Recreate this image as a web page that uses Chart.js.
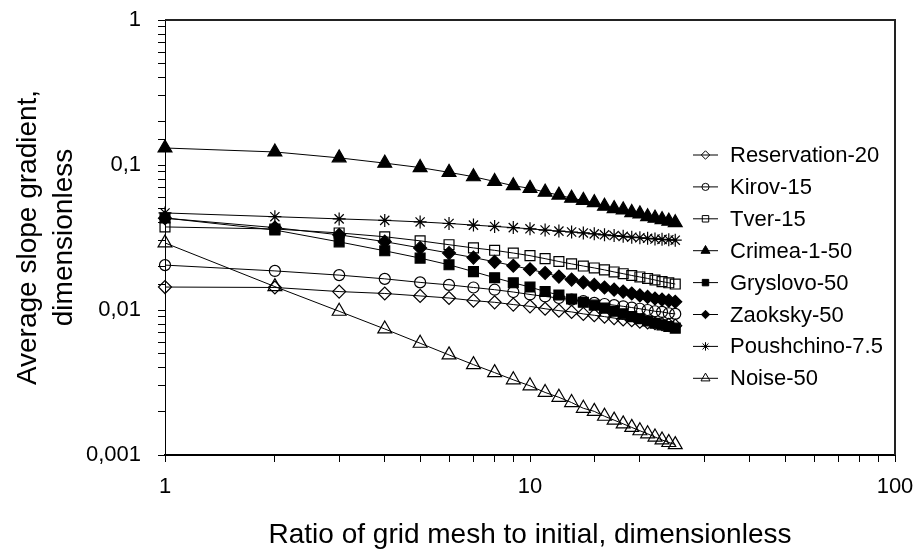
<!DOCTYPE html>
<html>
<head>
<meta charset="utf-8">
<script src="https://cdn.jsdelivr.net/npm/chart.js@4.4.1/dist/chart.umd.min.js"></script>
<style>
  html, body { margin: 0; padding: 0; background: #fff; }
  #wrap { width: 914px; height: 549px; }
</style>
</head>
<body>
<div id="wrap"><canvas id="myChart"></canvas></div>
<script>
// grid mesh ratio (x) for every series
const ratios = [1, 2, 3, 4, 5, 6, 7, 8, 9, 10, 11, 12, 13, 14, 15, 16, 17, 18, 19, 20, 21, 22, 23, 24, 25];

// average slope gradient per site
const reservation = [0.0144, 0.0143, 0.0134, 0.0130, 0.0125, 0.0121, 0.0116, 0.0113, 0.0109, 0.0106, 0.0102, 0.0099, 0.0097, 0.0094, 0.0092, 0.0090, 0.0088, 0.0086, 0.0085, 0.0083, 0.0082, 0.0081, 0.0080, 0.0079, 0.0078];
const kirov = [0.0204, 0.0186, 0.0174, 0.0164, 0.0155, 0.0149, 0.0143, 0.0138, 0.0133, 0.0128, 0.0124, 0.0121, 0.0118, 0.0115, 0.0112, 0.0110, 0.0108, 0.0106, 0.0104, 0.0102, 0.0100, 0.0098, 0.0097, 0.0095, 0.0094];
const tver = [0.0374, 0.0362, 0.0340, 0.0320, 0.0300, 0.0282, 0.0268, 0.0258, 0.0247, 0.0237, 0.0226, 0.0216, 0.0208, 0.0201, 0.0195, 0.0189, 0.0183, 0.0178, 0.0173, 0.0169, 0.0165, 0.0161, 0.0157, 0.0154, 0.0151];
const crimea = [0.131, 0.123, 0.112, 0.103, 0.096, 0.089, 0.083, 0.077, 0.072, 0.069, 0.065, 0.062, 0.059, 0.057, 0.055, 0.052, 0.050, 0.049, 0.047, 0.046, 0.044, 0.043, 0.042, 0.041, 0.040];
const gryslovo = [0.0431, 0.0356, 0.0295, 0.0256, 0.0228, 0.0205, 0.0184, 0.0167, 0.0154, 0.0144, 0.0134, 0.0127, 0.0119, 0.0113, 0.0108, 0.0103, 0.0098, 0.0094, 0.0090, 0.0087, 0.0084, 0.0081, 0.0079, 0.0077, 0.0075];
const zaoksky = [0.0430, 0.0370, 0.0330, 0.0296, 0.0268, 0.0247, 0.0230, 0.0215, 0.0202, 0.0191, 0.0180, 0.0170, 0.0162, 0.0155, 0.0149, 0.0143, 0.0138, 0.0134, 0.0130, 0.0126, 0.0123, 0.0120, 0.0118, 0.0116, 0.0114];
const poushchino = [0.0467, 0.0440, 0.0425, 0.0415, 0.0405, 0.0395, 0.0385, 0.0377, 0.0370, 0.0363, 0.0356, 0.0350, 0.0345, 0.0340, 0.0335, 0.0330, 0.0326, 0.0322, 0.0318, 0.0315, 0.0312, 0.0309, 0.0307, 0.0305, 0.0303];
const noise = [0.0290, 0.0145, 0.0098, 0.0074, 0.0059, 0.0049, 0.0042, 0.0037, 0.0033, 0.0030, 0.0027, 0.0025, 0.0023, 0.0021, 0.0020, 0.00185, 0.00174, 0.00164, 0.00155, 0.00147, 0.0014, 0.00133, 0.00127, 0.00122, 0.00118];

// tick labels (only decades get a label)
const xTickValues = [1, 10, 100];
const xTickLabels = ["1", "10", "100"];
const yTickValues = [0.001, 0.01, 0.1, 1];
const yTickLabels = ["0,001", "0,01", "0,1", "1"];

const FONT = '"Liberation Sans", Arial, sans-serif';
const OPEN = "rgba(0,0,0,0)";

function toPoints(values) {
  return ratios.map((r, i) => ({ x: r, y: values[i] }));
}

function decadeLabel(value, vals, labels) {
  const i = vals.findIndex((v) => Math.abs(value - v) / v < 1e-6);
  return i >= 0 ? labels[i] : "";
}

function series(label, values, pointStyle, radius, fillColor) {
  return {
    label,
    data: toPoints(values),
    borderColor: "#000",
    borderWidth: 1,
    pointStyle,
    pointRadius: radius,
    pointHoverRadius: radius,
    pointBorderColor: "#000",
    pointBorderWidth: 1.2,
    pointBackgroundColor: fillColor,
    clip: false,
    tension: 0,
  };
}

const data = {
  datasets: [
    series("Reservation-20", reservation, "rectRot", 6.5, OPEN),
    series("Kirov-15", kirov, "circle", 5.5, OPEN),
    series("Tver-15", tver, "rect", 7, OPEN),
    series("Crimea-1-50", crimea, "triangle", 8, "#000"),
    series("Gryslovo-50", gryslovo, "rect", 7, "#000"),
    series("Zaoksky-50", zaoksky, "rectRot", 6.5, "#000"),
    series("Poushchino-7.5", poushchino, "star", 6.5, OPEN),
    series("Noise-50", noise, "triangle", 8, OPEN),
  ],
};

// box around the plot area (top and right sides are not drawn by the axes)
const frame = {
  id: "frame",
  beforeDatasetsDraw(chart) {
    const { ctx, chartArea: a } = chart;
    ctx.save();
    ctx.strokeStyle = "#222";
    ctx.lineWidth = 2;
    ctx.beginPath();
    ctx.moveTo(a.left, a.top);
    ctx.lineTo(a.right, a.top);
    ctx.lineTo(a.right, a.bottom);
    ctx.stroke();
    ctx.restore();
  },
};

// legend drawn inside the plot, with a line through each marker
const insideLegend = {
  id: "insideLegend",
  afterDraw(chart) {
    const { ctx, chartArea: a } = chart;
    const x0 = a.right - 202;
    const y0 = a.top + 135;
    const step = 31.9;
    ctx.save();
    ctx.font = "22px " + FONT;
    ctx.textBaseline = "middle";
    ctx.textAlign = "left";
    chart.data.datasets.forEach((ds, i) => {
      const y = y0 + i * step;
      ctx.strokeStyle = "#000";
      ctx.lineWidth = 1;
      ctx.beginPath();
      ctx.moveTo(x0, y);
      ctx.lineTo(x0 + 25, y);
      ctx.stroke();
      ctx.fillStyle = ds.pointBackgroundColor;
      Chart.helpers.drawPoint(ctx, { pointStyle: ds.pointStyle, radius: ds.pointRadius * 0.65, borderWidth: 1, rotation: 0 }, x0 + 12.5, y);
      ctx.fillStyle = "#000";
      ctx.fillText(ds.label, x0 + 37, y + 1);
    });
    ctx.restore();
  },
};

const config = {
  type: "line",
  data,
  options: {
    responsive: true,
    maintainAspectRatio: false,
    animation: false,
    events: [],
    layout: { padding: { top: 20, right: 19, left: 0, bottom: 0 } },
    plugins: {
      legend: { display: false },
      tooltip: { enabled: false },
    },
    scales: {
      x: {
        type: "logarithmic",
        min: 1,
        max: 100,
        grid: { drawOnChartArea: false, drawTicks: true, tickLength: 7, tickColor: "#000", tickWidth: 1 },
        border: { display: true, color: "#000", width: 2 },
        ticks: {
          autoSkip: false,
          maxRotation: 0,
          padding: 12,
          color: "#000",
          font: { family: FONT, size: 22 },
          callback: (v) => decadeLabel(v, xTickValues, xTickLabels),
        },
        title: {
          display: true,
          text: "Ratio of grid mesh to initial, dimensionless",
          color: "#000",
          font: { family: FONT, size: 28, lineHeight: 1 },
          padding: { top: 0, bottom: 0 },
        },
        afterFit: (scale) => {
          scale.height = 94;
          scale.paddingLeft = 0;
          scale.paddingRight = 0;
        },
      },
      y: {
        type: "logarithmic",
        min: 0.001,
        max: 1,
        grid: { drawOnChartArea: false, drawTicks: true, tickLength: 7, tickColor: "#000", tickWidth: 1 },
        border: { display: true, color: "#000", width: 1 },
        ticks: {
          autoSkip: false,
          padding: 17,
          color: "#000",
          font: { family: FONT, size: 22 },
          callback: (v) => decadeLabel(v, yTickValues, yTickLabels),
        },
        title: {
          display: true,
          text: ["Average slope gradient,", "dimensionless"],
          color: "#000",
          font: { family: FONT, size: 28, lineHeight: 1.3 },
          padding: { top: 10, bottom: 0 },
        },
        afterFit: (scale) => {
          scale.width = 165;
          scale.paddingTop = 0;
          scale.paddingBottom = 0;
        },
      },
    },
  },
  plugins: [frame, insideLegend],
};

const myChart = new Chart(document.getElementById("myChart"), config);
</script>
</body>
</html>
